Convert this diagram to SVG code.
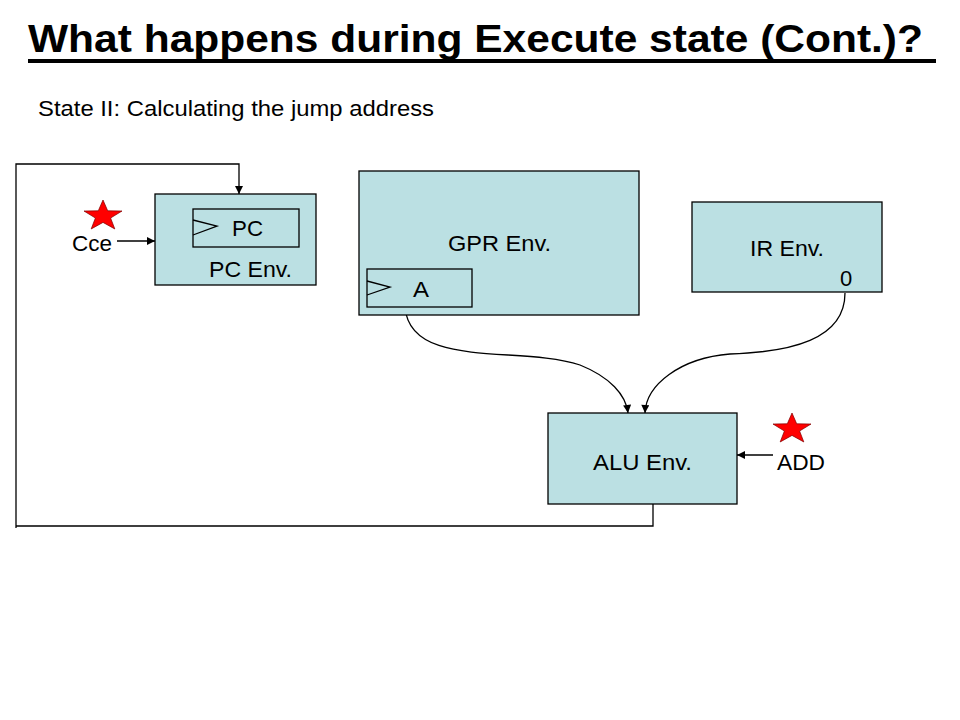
<svg xmlns="http://www.w3.org/2000/svg" width="960" height="720" viewBox="0 0 960 720">
<defs>
<style>
.box{fill:#bbe0e3;stroke:#000;stroke-width:1.3}
.inner{fill:none;stroke:#000;stroke-width:1.3}
.t{font-family:"Liberation Sans",Arial,sans-serif;font-size:22px;fill:#000}
.ln{fill:none;stroke:#000;stroke-width:1.3}
.star{fill:#ff0000;stroke:#800000;stroke-width:0.8}
</style>
<marker id="ah" viewBox="0 0 10 10" refX="10" refY="5" markerWidth="9" markerHeight="8" markerUnits="userSpaceOnUse" orient="auto">
<path d="M0,0 L10,5 L0,10 z" fill="#000"/>
</marker>
<polygon id="starshape" points="0,-20 4.7,-6.5 19,-6.2 7.6,2.5 11.8,16.2 0,8 -11.8,16.2 -7.6,2.5 -19,-6.2 -4.7,-6.5"/>
</defs>
<rect width="960" height="720" fill="#fff"/>
<g id="title">
<text x="28" y="52" font-family="'Liberation Sans',Arial,sans-serif" font-weight="bold" font-size="39" textLength="895" lengthAdjust="spacingAndGlyphs">What happens during Execute state (Cont.)?</text>
<rect x="28" y="59" width="908" height="4" fill="#000"/>
<text x="38" y="116" class="t" font-size="18.5" textLength="396" lengthAdjust="spacingAndGlyphs">State II: Calculating the jump address</text>
</g>
<g id="connectors">
<polyline class="ln" points="16,528 16,164 239,164 239,194" marker-end="url(#ah)"/>
<polyline class="ln" points="16,526 653,526 653,504"/>
<line class="ln" x1="117" y1="241" x2="155" y2="241" marker-end="url(#ah)"/>
<line class="ln" x1="773" y1="455" x2="737" y2="455" marker-end="url(#ah)"/>
<path class="ln" d="M405,307 C410,370 520,345 580,365 C610,377 626,395 628,413" marker-end="url(#ah)"/>
<path class="ln" d="M845,293 C845,340 790,352 730,354 C680,358 646,385 645,413" marker-end="url(#ah)"/>
</g>
<g id="pc-env">
<rect class="box" x="155" y="194" width="161" height="91"/>
<rect class="inner" x="193" y="209" width="106" height="38"/>
<polyline class="ln" points="193,220 217,226 193,235" stroke-width="1"/>
<text class="t" x="232" y="236" textLength="31" lengthAdjust="spacingAndGlyphs">PC</text>
<text class="t" x="209" y="277" textLength="83" lengthAdjust="spacingAndGlyphs">PC Env.</text>
</g>
<g id="cce">
<use href="#starshape" class="star" transform="translate(103,216) scale(1,0.8)"/>
<text class="t" x="72" y="251" textLength="40" lengthAdjust="spacingAndGlyphs">Cce</text>
</g>
<g id="gpr-env">
<rect class="box" x="359" y="171" width="280" height="144"/>
<text class="t" x="448" y="251" textLength="103" lengthAdjust="spacingAndGlyphs">GPR Env.</text>
<rect class="inner" x="367" y="269" width="105" height="38"/>
<polyline class="ln" points="367,281 390,287 367,295" stroke-width="1"/>
<text class="t" x="413" y="297" textLength="16" lengthAdjust="spacingAndGlyphs">A</text>
</g>
<g id="ir-env">
<rect class="box" x="692" y="202" width="190" height="90"/>
<text class="t" x="750" y="256" textLength="74" lengthAdjust="spacingAndGlyphs">IR Env.</text>
<text class="t" x="840" y="286">0</text>
</g>
<g id="alu-env">
<rect class="box" x="548" y="413" width="189" height="91"/>
<text class="t" x="593" y="470" font-size="23" textLength="99" lengthAdjust="spacingAndGlyphs">ALU Env.</text>
</g>
<g id="add">
<use href="#starshape" class="star" transform="translate(792,429) scale(1,0.8)"/>
<text class="t" x="777" y="470" font-size="23" textLength="48" lengthAdjust="spacingAndGlyphs">ADD</text>
</g>
</svg>
